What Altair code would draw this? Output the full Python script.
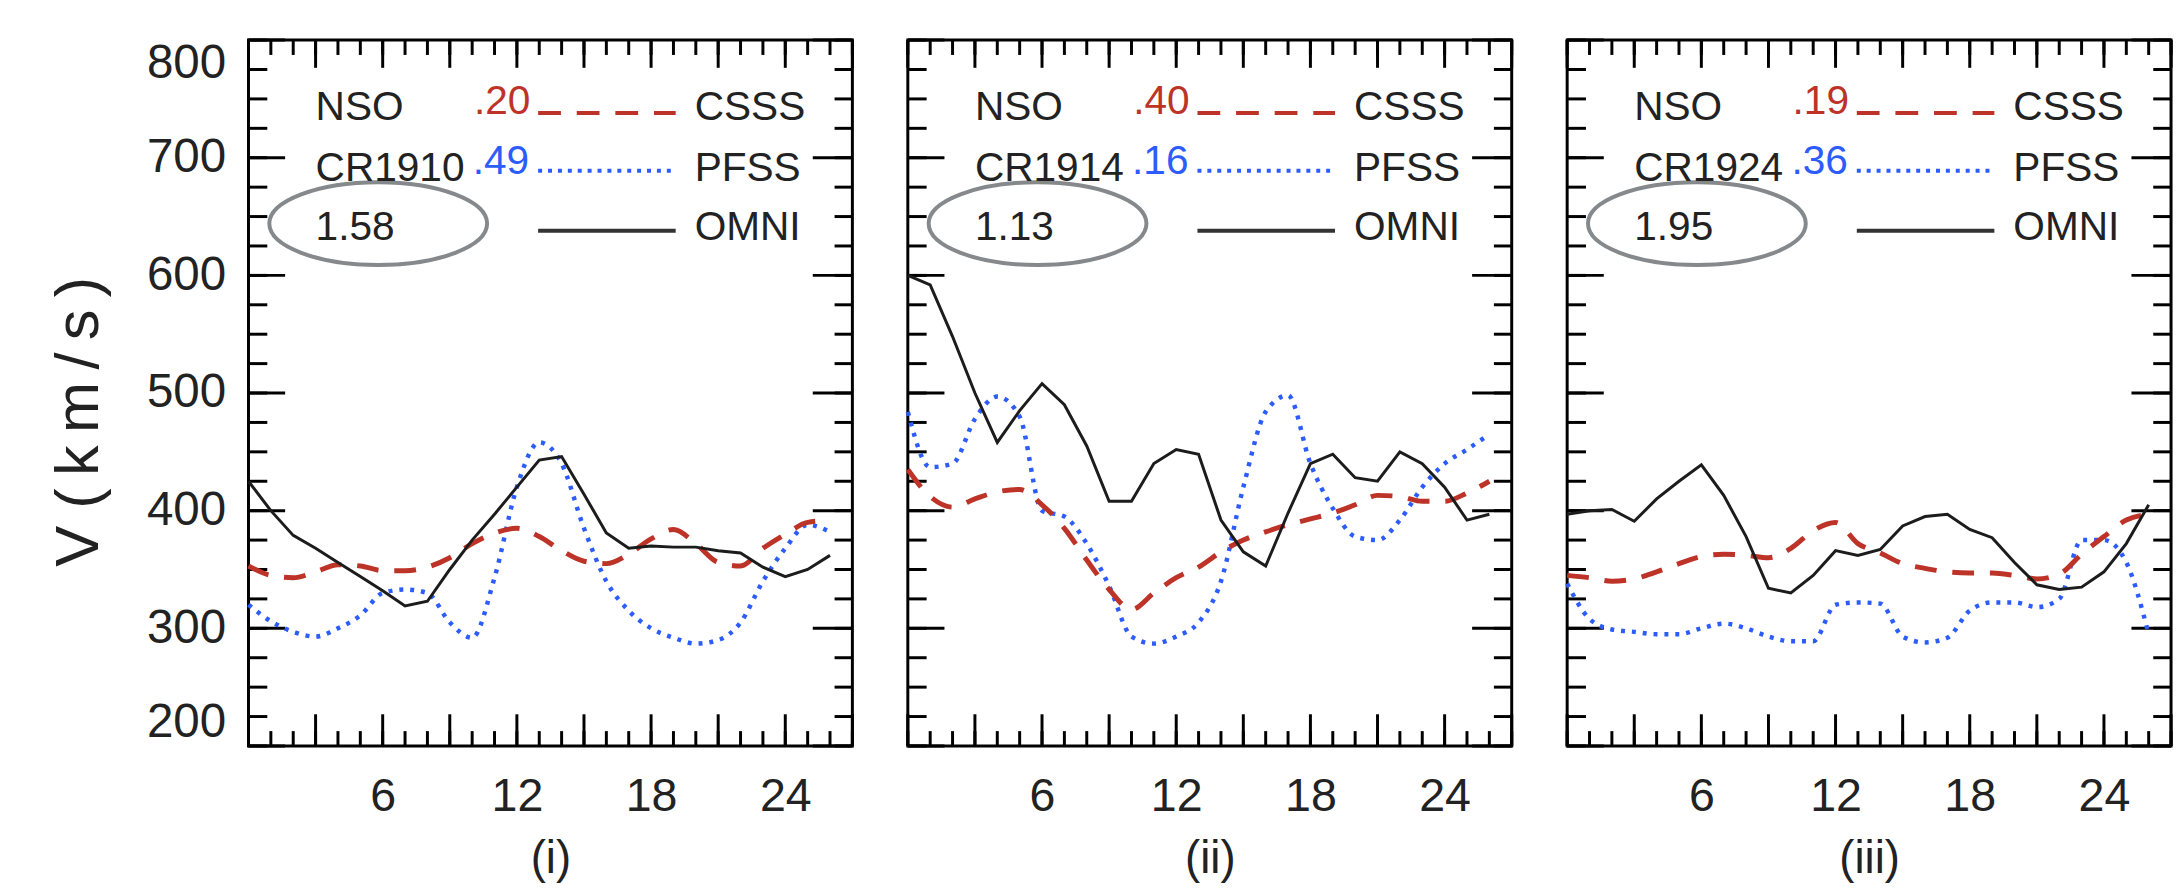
import altair as alt
import pandas as pd

FONT = "Liberation Sans"

# ---------------- data ----------------
days = list(range(27))

omni = [
    [425, 400, 379, 368, 356, 344, 332, 319, 323, 350, 375, 397, 420, 443, 446, 414, 381, 368, 370, 369, 369, 366, 364, 352, 344, 350, 362],
    [600, 592, 548, 500, 458, 485, 508, 490, 455, 408, 408, 440, 452, 448, 392, 365, 353, 398, 440, 448, 428, 425, 450, 440, 420, 392, 397],
    [397, 400, 401, 391, 410, 425, 439, 413, 378, 334, 330, 345, 366, 362, 367, 387, 395, 397, 384, 377, 356, 337, 333, 335, 348, 372, 405],
]
csss = [
    [353, 345, 343, 348, 354, 353, 349, 349, 352, 360, 372, 381, 385, 378, 366, 357, 355, 363, 376, 384, 372, 356, 353, 368, 380, 390, 392],
    [435, 412, 403, 410, 416, 418, 405, 385, 358, 333, 316, 330, 343, 352, 365, 375, 382, 388, 393, 398, 405, 413, 412, 408, 408, 415, 425],
    [345, 343, 340, 342, 348, 355, 361, 363, 362, 360, 368, 383, 390, 372, 364, 355, 351, 348, 347, 347, 345, 342, 346, 363, 378, 392, 397],
]
pfss = [
    [320, 306, 297, 293, 300, 311, 330, 333, 330, 305, 292, 343, 420, 458, 440, 385, 340, 315, 300, 292, 287, 290, 305, 340, 368, 388, 382],
    [484, 437, 440, 478, 497, 480, 400, 395, 372, 336, 293, 287, 293, 305, 340, 420, 484, 498, 440, 402, 378, 375, 392, 420, 440, 452, 465],
    [338, 308, 299, 297, 295, 295, 300, 304, 300, 293, 289, 289, 320, 322, 321, 293, 288, 292, 315, 322, 322, 318, 325, 375, 375, 356, 295],
]

panel_titles = ["(i)", "(ii)", "(iii)"]
rotations = ["CR1910", "CR1914", "CR1924"]
cc_csss = [".20", ".40", ".19"]
cc_pfss = [".49", ".16", ".36"]
ratios = ["1.58", "1.13", "1.95"]
model_names = ["CSSS", "PFSS", "OMNI"]
observatory = "NSO"
y_title = "V (km/s)"

x_label_values = [6, 12, 18, 24]
x_minor_ticks = list(range(0, 28))
x_major_ticks = list(range(0, 28, 3))
y_label_values = [200, 300, 400, 500, 600, 700, 800]
y_minor_ticks = list(range(200, 801, 25))
y_major_ticks = list(range(200, 801, 100))

# ---------------- styling ----------------
W, H = 610, 713
RED = "#bd3328"
BLUE = "#2c5cfb"
BLACK = "#1c1c1c"
GRAY = "#85898c"
THIN = "\u2009"

xs = alt.Scale(domain=[0, 27], nice=False, zero=False)
ys = alt.Scale(domain=[200, 800], nice=False, zero=False)

# legend layout in data units (same in all panels)
LEG_X_LEFT = 3.0
LEG_X_NUM = 12.6
LEG_X_LINE0, LEG_X_LINE1 = 12.95, 19.1
LEG_X_NAME = 19.95
ROW_Y = [742, 690, 640]
ELL_X, ELL_Y = 5.8, 644
ELLIPSE = "M -1 0 A 1 0.38 0 1 1 1 0 A 1 0.38 0 1 1 -1 0 Z"


def spaced(s):
    # widen the letter spacing of the axis title like the original
    out = ""
    for a, b in zip(s, s[1:] + " "):
        out += a
        if a != " " and b != " " and a != s[-1]:
            out += THIN
    return out.rstrip()


def panel(i):
    x_axis = alt.Axis(values=x_label_values, tickSize=0, domain=False, grid=False,
                      labelPadding=28, labelFontSize=47, labelFont=FONT, labelColor="#222",
                      labelAngle=0, title=panel_titles[i], titleFont=FONT, titleFontSize=46,
                      titleFontWeight="normal", titleColor="#222", titlePadding=18)
    if i == 0:
        y_axis = alt.Axis(values=y_label_values, tickSize=0, domain=False, grid=False,
                          labelFlush=True, labelPadding=23, labelFontSize=48, labelFont=FONT,
                          labelColor="#222", title=spaced(y_title), titleFont=FONT, titleFontSize=62,
                          titleFontWeight="normal", titleColor="#222", titlePadding=36, titleY=385)
    else:
        y_axis = None

    X = lambda f: alt.X(f, scale=xs, axis=x_axis)
    Y = lambda f: alt.Y(f, scale=ys, axis=y_axis)

    def series(vals, **mk):
        return alt.Chart(pd.DataFrame({"day": days, "v": vals})).mark_line(**mk).encode(
            x=X("day:Q"), y=Y("v:Q"))

    l_csss = series(csss[i], color=RED, strokeWidth=5, strokeDash=[22, 16], interpolate="monotone")
    l_pfss = series(pfss[i], color=BLUE, strokeWidth=4.5, strokeDash=[4, 7], interpolate="monotone")
    l_omni = series(omni[i], color=BLACK, strokeWidth=3)

    ydf_min = pd.DataFrame({"t": y_minor_ticks})
    ydf_maj = pd.DataFrame({"t": y_major_ticks})
    xdf_min = pd.DataFrame({"t": x_minor_ticks})
    xdf_maj = pd.DataFrame({"t": x_major_ticks})
    rk = dict(color="black", strokeWidth=3)
    ticks = [
        alt.Chart(ydf_min).mark_rule(**rk).encode(y=Y("t:Q"), x=alt.value(0), x2=alt.value(19)),
        alt.Chart(ydf_maj).mark_rule(**rk).encode(y=Y("t:Q"), x=alt.value(0), x2=alt.value(37)),
        alt.Chart(ydf_min).mark_rule(**rk).encode(y=Y("t:Q"), x=alt.value(W), x2=alt.value(W - 18)),
        alt.Chart(ydf_maj).mark_rule(**rk).encode(y=Y("t:Q"), x=alt.value(W), x2=alt.value(W - 40)),
        alt.Chart(xdf_min).mark_rule(**rk).encode(x=X("t:Q"), y=alt.value(H), y2=alt.value(H - 15)),
        alt.Chart(xdf_maj).mark_rule(**rk).encode(x=X("t:Q"), y=alt.value(H), y2=alt.value(H - 32)),
        alt.Chart(xdf_min).mark_rule(**rk).encode(x=X("t:Q"), y=alt.value(0), y2=alt.value(15)),
        alt.Chart(xdf_maj).mark_rule(**rk).encode(x=X("t:Q"), y=alt.value(0), y2=alt.value(28)),
    ]

    txt = dict(font=FONT, fontSize=41, baseline="middle")
    left_df = pd.DataFrame({"x": [LEG_X_LEFT] * 3, "y": ROW_Y,
                            "s": [observatory, rotations[i], ratios[i]]})
    name_df = pd.DataFrame({"x": [LEG_X_NAME] * 3, "y": ROW_Y, "s": model_names})
    red_df = pd.DataFrame({"x": [LEG_X_NUM], "y": [ROW_Y[0] + 5], "s": [cc_csss[i]]})
    blue_df = pd.DataFrame({"x": [LEG_X_NUM - 0.05], "y": [ROW_Y[1] + 6], "s": [cc_pfss[i]]})
    texts = [
        alt.Chart(left_df).mark_text(align="left", color="#222", **txt).encode(x=X("x:Q"), y=Y("y:Q"), text="s:N"),
        alt.Chart(name_df).mark_text(align="left", color="#222", **txt).encode(x=X("x:Q"), y=Y("y:Q"), text="s:N"),
        alt.Chart(red_df).mark_text(align="right", color=RED, **txt).encode(x=X("x:Q"), y=Y("y:Q"), text="s:N"),
        alt.Chart(blue_df).mark_text(align="right", color=BLUE, **txt).encode(x=X("x:Q"), y=Y("y:Q"), text="s:N"),
    ]

    def leg_line(yv, **mk):
        d = pd.DataFrame({"x0": [LEG_X_LINE0], "x1": [LEG_X_LINE1], "y": [yv]})
        return alt.Chart(d).mark_rule(**mk).encode(x=X("x0:Q"), x2="x1:Q", y=Y("y:Q"))

    leg_lines = [
        leg_line(ROW_Y[0] - 4, color=RED, strokeWidth=4, strokeDash=[23, 16]),
        leg_line(ROW_Y[1] - 1, color=BLUE, strokeWidth=4, strokeDash=[4, 6]),
        leg_line(ROW_Y[2] - 2, color="#333", strokeWidth=4),
    ]

    ell = alt.Chart(pd.DataFrame({"x": [ELL_X], "y": [ELL_Y]})).mark_point(
        shape=ELLIPSE, size=48400, filled=False, stroke=GRAY, strokeWidth=4, opacity=1
    ).encode(x=X("x:Q"), y=Y("y:Q"))

    return alt.layer(*ticks, l_pfss, l_csss, l_omni, ell, *leg_lines, *texts).properties(width=W, height=H)


chart = alt.hconcat(panel(0), panel(1), panel(2), spacing=41).properties(
    padding={"left": 47, "top": 33, "right": 2, "bottom": 2}
).configure_view(stroke="black", strokeWidth=3)

chart.save("out.html", embed_options={"renderer": "svg", "actions": False})
